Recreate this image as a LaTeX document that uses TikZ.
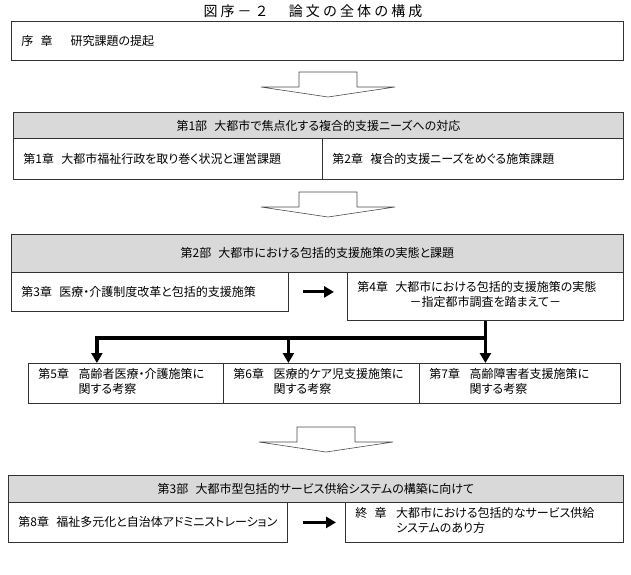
\documentclass[tikz,border=0pt]{standalone}
\usepackage{fontspec}
\setmainfont{Noto Sans CJK JP}[RawFeature=+palt]
\newfontfamily\titlefont[LetterSpace=22]{Noto Sans CJK JP}
\usetikzlibrary{positioning,arrows.meta,calc}

\begin{document}
\begin{tikzpicture}[
    x=1pt, y=-1pt,
    box/.style={
        draw=black!80,
        line width=0.8pt,
        fill=white,
        anchor=north west,
        inner xsep=10pt,
        inner ysep=0pt,
        align=left,
        font=\fontsize{12}{15}\selectfont
    },
    partbox/.style={
        box,
        fill=black!15,
        align=center
    },
    fat/.style={line width=3.5pt},
    fatarrow/.style={fat, -{Triangle[length=10pt,width=11pt]}},
    bigdown/.pic={
        \draw[draw=black!70, fill=white, line width=0.6pt]
            (-29,0) -- (29,0) -- (29,15) -- (67,15) -- (0,25)
            -- (-67,15) -- (-29,15) -- cycle;
    }
]
\useasboundingbox (0,0) rectangle (631,574);

\node[font=\titlefont\fontsize{14}{16}\selectfont] (title) at (313,11) {図序－２　論文の全体の構成};

% introduction
\node[box, text width=592pt, minimum height=39pt] (intro) at (11,21)
    {序\hspace{0.6em}章\hspace{1.5em}研究課題の提起};
\pic at (328,72) {bigdown};

% part 1
\node[partbox, minimum width=610pt, minimum height=26pt] (part1) at (13,112)
    {第1部\hspace{0.6em}大都市で焦点化する複合的支援ニーズへの対応};
\node[box, text width=289pt, minimum height=41pt] (ch1) at (13,138)
    {第1章\hspace{0.6em}大都市福祉行政を取り巻く状況と運営課題};
\node[box, text width=281pt, minimum height=41pt] (ch2) at (322,138)
    {第2章\hspace{0.6em}複合的支援ニーズをめぐる施策課題};
\pic at (328,192) {bigdown};

% part 2
\node[partbox, minimum width=612pt, minimum height=38pt] (part2) at (11,234)
    {第2部\hspace{0.6em}大都市における包括的支援施策の実態と課題};
\node[box, text width=257pt, minimum height=39pt] (ch3) at (11,272)
    {第3章\hspace{0.6em}医療・介護制度改革と包括的支援施策};
\node[box, text width=256pt, minimum height=48pt] (ch4) at (347,272)
    {\begin{tabular}{@{}l@{\hspace{0.6em}}l@{}}
    第4章 & 大都市における包括的支援施策の実態 \\
          & \hspace{1.2em}－指定都市調査を踏まえて－
    \end{tabular}};
\draw[fatarrow, line width=3pt] ([xshift=14pt]ch3.east) -- ([xshift=-13pt]ch4.west |- ch3.east);

\node[box, text width=175pt, minimum height=40pt] (ch5) at (28,363)
    {\begin{tabular}{@{}l@{\hspace{0.8em}}l@{}}
    第5章 & 高齢者医療・介護施策に \\
          & 関する考察
    \end{tabular}};
\node[box, text width=176pt, minimum height=40pt] (ch6) at (223,363)
    {\begin{tabular}{@{}l@{\hspace{0.8em}}l@{}}
    第6章 & 医療的ケア児支援施策に \\
          & 関する考察
    \end{tabular}};
\node[box, text width=181pt, minimum height=40pt] (ch7) at (419,363)
    {\begin{tabular}{@{}l@{\hspace{0.8em}}l@{}}
    第7章 & 高齢障害者支援施策に \\
          & 関する考察
    \end{tabular}};

\coordinate (fork) at ([yshift=-17pt]ch4.south);
\draw[fatarrow] (ch4.south) -- (ch4.south |- ch7.north);
\draw[fatarrow] (fork) -| ([xshift=-29pt]ch5.north);
\draw[fatarrow] ([xshift=-33pt]ch6.north |- fork) -- ([xshift=-33pt]ch6.north);
\pic at (326,427) {bigdown};

% part 3
\node[partbox, minimum width=615pt, minimum height=27pt] (part3) at (8,475)
    {第3部\hspace{0.6em}大都市型包括的サービス供給システムの構築に向けて};
\node[box, text width=259pt, minimum height=40pt] (ch8) at (8,502)
    {第8章\hspace{0.6em}福祉多元化と自治体アドミニストレーション};
\node[box, text width=258pt, minimum height=40pt] (fin) at (345,502)
    {\begin{tabular}{@{}l@{\hspace{0.8em}}l@{}}
    終\hspace{0.6em}章 & 大都市における包括的なサービス供給 \\
                       & システムのあり方
    \end{tabular}};
\draw[fatarrow, line width=3pt] ([xshift=15pt]ch8.east) -- ([xshift=-9pt]fin.west);
\end{tikzpicture}
\end{document}
